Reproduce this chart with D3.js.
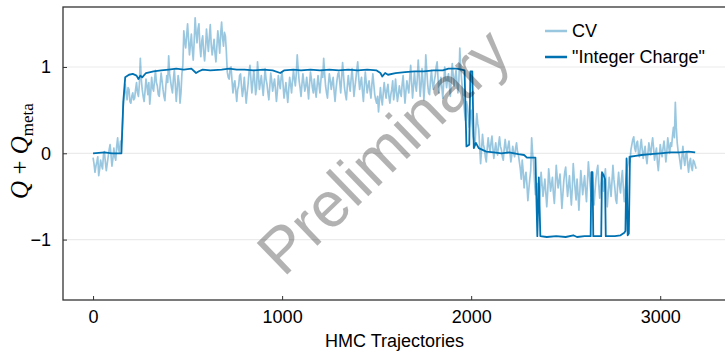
<!DOCTYPE html>
<html>
<head>
<meta charset="utf-8">
<script src="https://cdn.jsdelivr.net/npm/d3@7"></script>
<style>
  body { margin: 0; background: #fff; }
  svg { display: block; }
  text { font-family: "Liberation Sans", Arial, sans-serif; fill: #000; }
</style>
</head>
<body>
<svg width="725" height="352"></svg>
<script>
const cvStep = 5;
const cvValues = [
  -0.05, -0.12, -0.22, -0.15, -0.10, -0.04, -0.26, -0.18, -0.08, -0.14, -0.18, -0.02, 0.02, -0.10, -0.20, -0.12, -0.04, 0.04, 0.10, -0.02,
  -0.15, -0.06, 0.06, -0.04, -0.08, 0.08, 0.18, 0.04, 0.01, 0.14, 0.12, 0.30, 0.55, 0.68, 0.80, 0.70, 0.62, 0.76, 0.74, 0.60,
  0.58, 0.66, 0.70, 0.62, 0.64, 0.74, 0.82, 0.70, 0.66, 0.80, 1.10, 0.86, 0.74, 0.66, 0.60, 0.72, 0.86, 0.78, 0.68, 0.82,
  0.57, 0.70, 0.88, 0.76, 0.72, 0.84, 0.96, 0.82, 0.78, 0.68, 0.66, 0.80, 0.93, 0.84, 0.74, 0.66, 0.61, 0.78, 0.90, 0.82,
  1.13, 0.92, 0.84, 0.76, 0.70, 0.86, 0.97, 0.80, 0.60, 0.74, 0.90, 0.82, 0.58, 0.70, 0.92, 1.02, 1.42, 1.30, 1.22, 1.36,
  1.50, 1.32, 1.14, 1.26, 1.38, 1.20, 1.08, 1.30, 1.57, 1.40, 1.28, 1.44, 1.50, 1.24, 1.12, 1.30, 1.36, 1.18, 1.07, 1.22,
  1.44, 1.30, 1.18, 1.34, 1.49, 1.26, 1.14, 1.22, 1.32, 1.16, 1.06, 1.24, 1.42, 1.30, 1.16, 1.38, 1.52, 1.34, 1.24, 1.40,
  1.36, 1.18, 0.94, 0.88, 0.86, 0.98, 1.00, 0.84, 0.70, 0.80, 0.84, 0.72, 0.60, 0.74, 0.78, 0.90, 0.92, 0.78, 0.66, 0.74,
  0.88, 0.72, 0.58, 0.70, 0.80, 0.94, 1.02, 0.86, 0.70, 0.82, 0.96, 0.84, 0.68, 0.76, 1.06, 0.90, 0.74, 0.82, 0.90, 0.78,
  0.67, 0.82, 0.98, 0.86, 0.80, 0.70, 0.62, 0.78, 0.93, 0.84, 0.72, 0.80, 0.86, 0.74, 0.60, 0.72, 0.90, 0.82, 0.75, 0.88,
  0.94, 0.80, 0.64, 0.72, 0.82, 0.70, 0.59, 0.74, 0.88, 0.80, 0.70, 0.84, 0.96, 0.86, 0.78, 0.92, 1.14, 0.98, 0.84, 0.76,
  0.66, 0.80, 0.92, 0.82, 0.72, 0.78, 0.88, 0.76, 0.63, 0.80, 0.94, 0.86, 0.76, 0.70, 0.86, 0.74, 0.65, 0.78, 0.90, 0.80,
  0.70, 0.84, 0.96, 0.88, 1.10, 0.92, 0.78, 0.70, 0.64, 0.80, 0.92, 0.84, 0.74, 0.82, 0.88, 0.72, 0.60, 0.74, 0.84, 0.92,
  0.94, 0.82, 0.70, 0.88, 1.05, 0.90, 0.76, 0.68, 0.62, 0.78, 0.90, 0.80, 0.72, 0.86, 0.98, 0.84, 0.66, 0.76, 0.86, 0.96,
  1.06, 0.88, 0.74, 0.82, 0.88, 0.72, 0.60, 0.78, 0.94, 0.82, 0.70, 0.78, 0.84, 0.72, 0.64, 0.80, 0.92, 0.80, 0.68, 0.62,
  0.58, 0.66, 0.48, 0.62, 0.76, 0.64, 0.56, 0.70, 0.82, 0.72, 0.64, 0.74, 0.80, 0.66, 0.58, 0.68, 0.74, 0.84, 0.62, 0.70,
  0.86, 0.72, 0.60, 0.68, 0.78, 0.70, 0.66, 0.80, 0.90, 0.74, 0.58, 0.72, 0.84, 0.76, 0.70, 0.86, 1.02, 0.82, 0.64, 0.78,
  0.94, 0.80, 0.72, 0.86, 1.08, 0.90, 0.66, 0.78, 0.98, 0.84, 0.62, 0.80, 1.14, 0.96, 0.80, 0.70, 0.68, 0.84, 0.96, 0.82,
  0.74, 0.84, 0.90, 1.00, 1.06, 0.86, 0.70, 0.80, 0.88, 0.76, 0.64, 0.82, 1.00, 0.88, 0.76, 0.86, 0.92, 0.78, 0.66, 0.86,
  1.04, 0.90, 0.78, 0.88, 0.96, 0.82, 0.70, 0.84, 1.22, 0.98, 0.84, 0.70, 0.62, 0.48, 0.38, 0.60, 0.55, 0.42, 0.30, 0.44,
  0.50, 0.36, 0.20, 0.14, 0.10, 0.30, 0.46, 0.34, 0.28, 0.08, -0.12, 0.04, 0.22, 0.10, 0.05, -0.04, -0.10, 0.06, 0.18, 0.08,
  0.02, 0.12, 0.20, 0.06, -0.06, 0.04, 0.12, 0.02, -0.02, 0.10, 0.19, 0.08, 0.04, -0.04, -0.08, 0.06, 0.16, 0.06, 0.00, 0.08,
  0.14, 0.02, -0.10, -0.02, 0.08, 0.00, -0.04, 0.06, 0.12, 0.02, -0.02, -0.10, -0.18, -0.30, -0.08, -0.20, -0.40, -0.28, -0.22, -0.36,
  -0.55, -0.42, -0.30, -0.20, 0.18, 0.00, -0.10, -0.32, -0.48, -0.40, -0.35, -0.50, -0.60, -0.42, -0.22, -0.36, -0.50, -0.40, -0.30, -0.46,
  -0.62, -0.44, -0.18, -0.30, -0.44, -0.36, -0.28, -0.46, -0.58, -0.38, -0.14, -0.28, -0.40, -0.32, -0.24, -0.44, -0.64, -0.48, -0.32, -0.22,
  -0.16, -0.34, -0.50, -0.38, -0.26, -0.44, -0.60, -0.40, -0.12, -0.28, -0.42, -0.54, -0.30, -0.46, -0.66, -0.44, -0.20, -0.34, -0.48, -0.36,
  -0.26, -0.42, -0.56, -0.34, -0.10, -0.24, -0.38, -0.50, -0.22, -0.40, -0.60, -0.44, -0.30, -0.20, -0.14, -0.36, -0.52, -0.38, -0.24, -0.32,
  -0.44, -0.30, -0.18, -0.40, -0.62, -0.46, -0.28, -0.38, -0.50, -0.32, -0.14, -0.30, -0.40, -0.54, -0.58, -0.36, -0.22, -0.38, -0.46, -0.30,
  -0.20, -0.40, -0.56, -0.42, -0.30, -0.18, -0.12, -0.04, -0.10, 0.04, 0.10, 0.16, 0.19, 0.06, 0.02, 0.12, 0.14, 0.00, -0.04, 0.08,
  0.16, 0.04, -0.06, 0.02, 0.08, -0.04, -0.12, 0.00, 0.12, 0.04, -0.02, 0.10, 0.18, 0.06, -0.08, 0.00, 0.06, -0.10, -0.20, -0.06,
  0.10, 0.02, -0.04, 0.06, 0.14, 0.04, -0.10, 0.02, 0.18, 0.08, 0.00, 0.12, 0.08, 0.20, 0.30, 0.18, 0.59, 0.30, 0.12, 0.02,
  -0.02, -0.10, -0.18, -0.04, 0.08, -0.06, -0.14, -0.02, 0.02, -0.12, -0.22, -0.10, -0.06, -0.16, -0.20, -0.08, -0.10, -0.14, -0.18
];

// "Integer Charge": trajectory and value pairs
const icTraj = [
  0, 60, 100, 150, 160, 170, 190, 210, 230, 240, 250, 260, 280, 320, 360, 400,
  440, 480, 520, 545, 560, 580, 620, 680, 720, 760, 800, 850, 900, 950, 990, 1010,
  1060, 1100, 1150, 1200, 1250, 1300, 1350, 1400, 1450, 1500, 1520, 1530, 1545, 1560,
  1600, 1650, 1700, 1750, 1800, 1850, 1880, 1920, 1950, 1965, 1975, 1990, 1996, 2006,
  2014, 2025, 2040, 2060, 2080, 2120, 2160, 2200, 2250, 2280, 2295, 2340, 2350, 2358,
  2366, 2400, 2450, 2500, 2540, 2560, 2600, 2632, 2636, 2642, 2646, 2688, 2692, 2700,
  2708, 2712, 2760, 2790, 2810, 2816, 2822, 2828, 2834, 2840, 2870, 2900, 2950, 3000,
  3050, 3100, 3150, 3185
];
const icValues = [
  0.00, 0.01, 0.00, 0.00, 0.60, 0.88, 0.91, 0.92, 0.90, 0.86, 0.90, 0.88, 0.93, 0.95, 0.96, 0.97,
  0.98, 0.97, 0.98, 0.93, 0.95, 0.97, 0.96, 0.97, 0.98, 0.97, 0.97, 0.96, 0.97, 0.96, 0.93, 0.96,
  0.97, 0.96, 0.97, 0.96, 0.97, 0.96, 0.97, 0.96, 0.97, 0.96, 0.93, 0.89, 0.93, 0.91,
  0.93, 0.94, 0.95, 0.95, 0.96, 0.96, 0.98, 0.98, 0.97, 0.96, 0.08, 0.10, 0.95, 0.95,
  0.06, 0.12, 0.06, 0.04, 0.02, 0.01, 0.00, 0.01, -0.01, -0.02, -0.05, -0.05, -0.96, -0.28,
  -0.96, -0.97, -0.96, -0.97, -0.95, -0.97, -0.96, -0.96, -0.22, -0.22, -0.96, -0.96, -0.22, -0.25,
  -0.30, -0.96, -0.96, -0.95, -0.92, -0.90, -0.06, -0.95, -0.93, -0.04, -0.03, -0.02, -0.01, 0.00,
  0.01, 0.01, 0.02, 0.01
];

const xTicks = [0, 1000, 2000, 3000];
const yTicks = [-1, 0, 1];
const seriesNames = ["CV", "\"Integer Charge\""];

const cvData = cvValues.map((v, i) => ({t: i * cvStep, v: v}));
const icData = icTraj.map((t, i) => ({t: t, v: icValues[i]}));

const svg = d3.select("svg");
const blue = "#0072b2";

// plot area
const plotL = 63, plotR = 726, plotT = 7, plotB = 300;

const x = d3.scaleLinear().domain([-159, 3348]).range([plotL, plotR]);
const y = d3.scaleLinear().domain([-1.7, 1.695]).range([plotB, plotT]);

// horizontal grid
svg.append("g")
  .selectAll("line")
  .data(yTicks)
  .join("line")
    .attr("x1", plotL)
    .attr("x2", plotR)
    .attr("y1", d => y(d))
    .attr("y2", d => y(d))
    .attr("stroke", "#ebebeb")
    .attr("stroke-width", 1.2);

const line = d3.line()
  .x(d => x(d.t))
  .y(d => y(d.v));

svg.append("path")
  .datum(cvData)
  .attr("fill", "none")
  .attr("stroke", blue)
  .attr("stroke-opacity", 0.4)
  .attr("stroke-width", 1.7)
  .attr("stroke-linejoin", "round")
  .attr("d", line);

svg.append("path")
  .datum(icData)
  .attr("fill", "none")
  .attr("stroke", blue)
  .attr("stroke-width", 1.8)
  .attr("stroke-linejoin", "round")
  .attr("d", line);

// axes: ticks point inward, spines drawn separately
const xAxis = svg.append("g")
  .attr("transform", `translate(0,${plotB})`)
  .call(d3.axisBottom(x).tickValues(xTicks).tickSizeInner(-4).tickSizeOuter(0).tickPadding(10)
    .tickFormat(d3.format("d")));
xAxis.select(".domain").remove();
xAxis.selectAll(".tick line").attr("stroke", "#333");
xAxis.selectAll(".tick text")
  .attr("font-size", 18)
  .attr("font-family", "Liberation Sans, Arial, sans-serif")
  .attr("fill", "#000");

const yAxis = svg.append("g")
  .attr("transform", `translate(${plotL},0)`)
  .call(d3.axisLeft(y).tickValues(yTicks).tickSizeInner(-4).tickSizeOuter(0).tickPadding(12)
    .tickFormat(d => d < 0 ? "\u2212" + Math.abs(d) : d));
yAxis.select(".domain").remove();
yAxis.selectAll(".tick line").attr("stroke", "#333");
yAxis.selectAll(".tick text")
  .attr("font-size", 18)
  .attr("font-family", "Liberation Sans, Arial, sans-serif")
  .attr("fill", "#000");

// frame
svg.append("rect")
  .attr("x", plotL)
  .attr("y", plotT)
  .attr("width", plotR - plotL)
  .attr("height", plotB - plotT)
  .attr("fill", "none")
  .attr("stroke", "#333")
  .attr("stroke-width", 1.3);

// axis labels
svg.append("text")
  .attr("x", (plotL + plotR) / 2)
  .attr("y", 347)
  .attr("text-anchor", "middle")
  .attr("font-size", 18)
  .text("HMC Trajectories");

const yl = svg.append("text")
  .attr("transform", "translate(28,151) rotate(-90)")
  .attr("text-anchor", "middle")
  .style("font-family", "Liberation Serif, Times New Roman, serif")
  .attr("font-size", 25);
yl.append("tspan").attr("font-style", "italic").text("Q");
yl.append("tspan").text(" + ");
yl.append("tspan").attr("font-style", "italic").text("Q");
yl.append("tspan").attr("font-size", 17).attr("dy", 5).text("meta");

// legend
const legend = svg.append("g")
  .selectAll("g")
  .data(seriesNames)
  .join("g")
    .attr("transform", (d, i) => `translate(545,${31 + i * 26})`);
legend.append("line")
  .attr("x1", 0)
  .attr("x2", 22)
  .attr("stroke", blue)
  .attr("stroke-width", 2.5)
  .attr("stroke-opacity", (d, i) => i === 0 ? 0.4 : 1);
legend.append("text")
  .attr("x", 27)
  .attr("dy", "0.35em")
  .attr("font-size", 18)
  .text(d => d);

// watermark
svg.append("text")
  .attr("transform", "translate(383,151) rotate(-44)")
  .attr("text-anchor", "middle")
  .attr("dy", "0.35em")
  .attr("font-size", 64)
  .style("fill", "#000")
  .style("fill-opacity", 0.3)
  .text("Preliminary");
</script>
</body>
</html>
